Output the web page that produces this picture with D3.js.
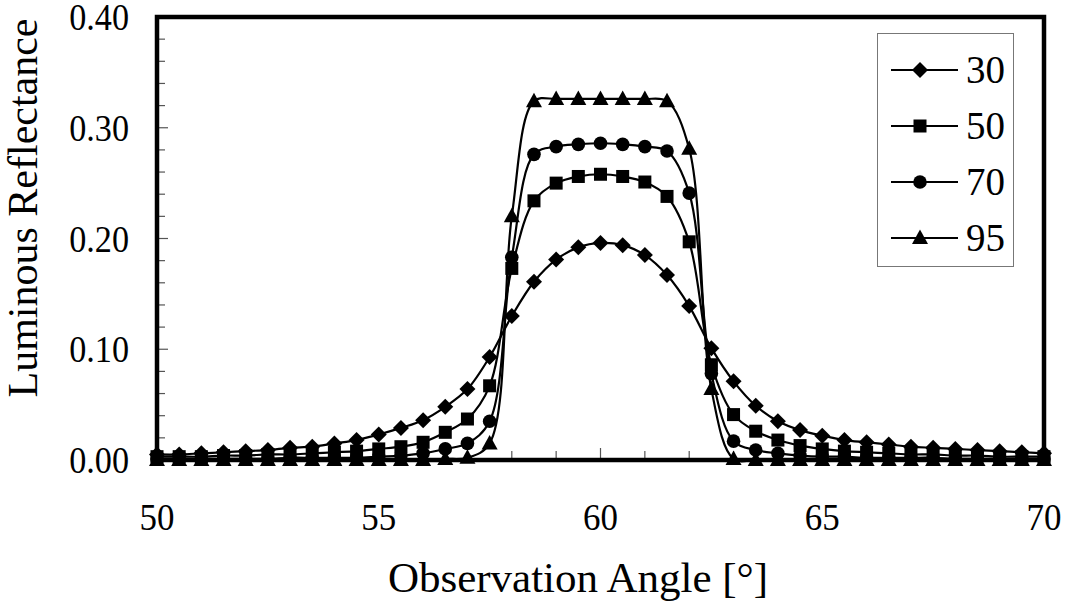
<!DOCTYPE html>
<html><head><meta charset="utf-8">
<script src="https://cdn.jsdelivr.net/npm/d3@7"></script>
<style>body{margin:0;background:#fff}svg{display:block}text{font-family:"Liberation Serif",serif;fill:#000}</style>
</head><body><svg id="c" width="1066" height="609"></svg>
<script>
const angles = [50,50.5,51,51.5,52,52.5,53,53.5,54,54.5,55,55.5,56,56.5,57,57.5,58,58.5,59,59.5,60,60.5,61,61.5,62,62.5,63,63.5,64,64.5,65,65.5,66,66.5,67,67.5,68,68.5,69,69.5,70];
const s30 = [0.005,0.005,0.006,0.007,0.008,0.009,0.011,0.012,0.015,0.018,0.023,0.029,0.036,0.048,0.064,0.093,0.130,0.161,0.181,0.192,0.196,0.194,0.185,0.167,0.139,0.101,0.071,0.049,0.035,0.027,0.022,0.018,0.016,0.014,0.012,0.011,0.010,0.009,0.008,0.007,0.006];
const s50 = [0.003,0.003,0.003,0.004,0.004,0.005,0.005,0.006,0.007,0.008,0.010,0.012,0.016,0.025,0.037,0.067,0.173,0.234,0.250,0.256,0.258,0.256,0.251,0.238,0.197,0.086,0.041,0.026,0.018,0.013,0.010,0.008,0.007,0.006,0.005,0.005,0.004,0.004,0.003,0.003,0.003];
const s70 = [0.001,0.001,0.001,0.001,0.001,0.001,0.002,0.002,0.002,0.002,0.003,0.004,0.006,0.010,0.015,0.035,0.183,0.276,0.283,0.285,0.286,0.285,0.283,0.279,0.241,0.078,0.017,0.009,0.006,0.004,0.003,0.003,0.002,0.002,0.002,0.002,0.001,0.001,0.001,0.001,0.001];
const s95 = [0,0,0,0,0,0,0,0,0,0,0,0,0,0.001,0.002,0.015,0.220,0.324,0.326,0.326,0.326,0.326,0.326,0.324,0.281,0.064,0.001,0,0,0,0,0,0,0,0,0,0,0,0,0,0];
const seriesNames = ["30","50","70","95"];
const xTickLabels = ["50","55","60","65","70"];
const yTickLabels = ["0.00","0.10","0.20","0.30","0.40"];

const svg = d3.select("#c");
const L=157, T=17, R=1044, B=460;
const x = d3.scaleLinear().domain([50,70]).range([L,R]);
const y = d3.scaleLinear().domain([0,0.4]).range([B,T]);

// inside ticks
const g = svg.append("g");
const xMinor = d3.range(51,70,1);
g.selectAll(".xt").data(xMinor).join("line")
  .attr("x1",d=>x(d)).attr("x2",d=>x(d)).attr("y1",B).attr("y2",d=>B-(d%5===0?12:9))
  .attr("stroke","#555").attr("stroke-width",1.2);
const yMinor = d3.range(1,20).map(i=>i*0.02);
g.selectAll(".yt").data(yMinor).join("line")
  .attr("y1",d=>y(d)).attr("y2",d=>y(d)).attr("x1",L).attr("x2",(d,i)=>L+((i+1)%5===0?11:8))
  .attr("stroke","#555").attr("stroke-width",1.2);

// tick labels
svg.selectAll(".xl").data(xTickLabels).join("text")
  .attr("transform",d=>`translate(${x(+d)},530) scale(0.92,1)`).attr("text-anchor","middle").attr("font-size",38).text(d=>d);
svg.selectAll(".yl").data(yTickLabels).join("text")
  .attr("transform",d=>`translate(129,${y(+d)+13}) scale(0.9,1)`).attr("text-anchor","end").attr("font-size",38).text(d=>d);

// axis titles
svg.append("text").attr("x",578).attr("y",592).attr("text-anchor","middle").attr("font-size",43).text("Observation Angle [°]");
svg.append("text").attr("transform","translate(37,208) rotate(-90)").attr("text-anchor","middle").attr("font-size",42).text("Luminous Reflectance");

// series
const allSeries = [s30,s50,s70,s95];
const line = d3.line().x((d,i)=>x(angles[i])).y(d=>y(d)).curve(d3.curveCatmullRom.alpha(0.5));
function marker(sel, k){
  if(k===0) sel.append("path").attr("d","M0,-8L8,0L0,8L-8,0Z");
  else if(k===1) sel.append("rect").attr("x",-6.5).attr("y",-6.5).attr("width",13).attr("height",13);
  else if(k===2) sel.append("circle").attr("r",6.8);
  else sel.append("path").attr("d","M0,-8.5L8,6L-8,6Z");
}
allSeries.forEach((s,k)=>{
  const sg = svg.append("g");
  sg.append("path").attr("d",line(s)).attr("fill","none").attr("stroke","#000").attr("stroke-width",2.2);
  s.forEach((v,i)=>{
    const m = sg.append("g").attr("transform",`translate(${x(angles[i])},${y(v)})`).attr("fill","#000");
    marker(m,k);
  });
});

// frame
svg.append("rect").attr("x",L).attr("y",T).attr("width",R-L).attr("height",B-T)
  .attr("fill","none").attr("stroke","#000").attr("stroke-width",4.5);

// legend
const lg = svg.append("g");
lg.append("rect").attr("x",877.5).attr("y",33.5).attr("width",136).attr("height",233)
  .attr("fill","#fff").attr("stroke","#777").attr("stroke-width",1);
const legY = [70,126,182,238];
seriesNames.forEach((n,k)=>{
  lg.append("line").attr("x1",891).attr("x2",958).attr("y1",legY[k]).attr("y2",legY[k]).attr("stroke","#000").attr("stroke-width",2.2);
  const m = lg.append("g").attr("transform",`translate(920,${legY[k]})`).attr("fill","#000");
  marker(m,k);
  lg.append("text").attr("x",966).attr("y",legY[k]+13).attr("font-size",39).text(n);
});
</script></body></html>
